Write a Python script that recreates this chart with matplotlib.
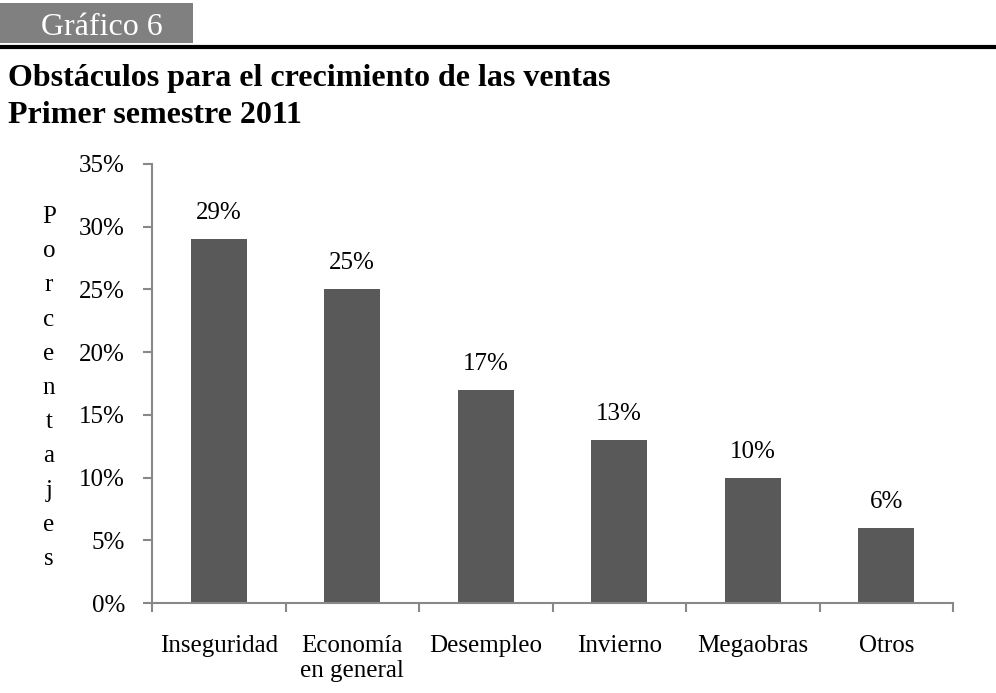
import matplotlib.pyplot as plt
from matplotlib.patches import Rectangle
from matplotlib.lines import Line2D
from matplotlib.ticker import FixedLocator, PercentFormatter

categorias = ["Inseguridad", "Economía\nen general", "Desempleo", "Invierno", "Megaobras", "Otros"]
valores = [29, 25, 17, 13, 10, 6]
yticks = [0, 5, 10, 15, 20, 25, 30, 35]

plt.rcParams["font.family"] = ["Liberation Serif", "DejaVu Serif"]

fig = plt.figure(figsize=(9.96, 6.93), dpi=100)
fig.patch.set_facecolor("white")

# header block
fig.patches.append(Rectangle((0, 1 - 43 / 693), 193 / 996, 40 / 693, transform=fig.transFigure,
                             facecolor="#808080", edgecolor="none"))
fig.text(102 / 996, 1 - 35 / 693, "Gráfico 6", color="white", fontsize=23,
         ha="center", va="baseline")
fig.lines.append(Line2D([0, 1], [1 - 46.5 / 693, 1 - 46.5 / 693], transform=fig.transFigure,
                        color="black", lw=3))
fig.text(8 / 996, 1 - 86 / 693, "Obstáculos para el crecimiento de las ventas",
         fontsize=23, fontweight="bold", ha="left", va="baseline")
fig.text(8 / 996, 1 - 123 / 693, "Primer semestre 2011",
         fontsize=23, fontweight="bold", ha="left", va="baseline")

ax = fig.add_axes([152 / 996, 90 / 693, 801 / 996, 439 / 693])
x = range(len(categorias))
ax.bar(x, valores, width=0.42, color="#595959")
for xi, v in zip(x, valores):
    ax.text(xi, v + 1.2, f"{v}%", ha="center", va="bottom", fontsize=18)

ax.set_xlim(-0.5, len(categorias) - 0.5)
ax.set_ylim(0, 35)
ax.yaxis.set_major_locator(FixedLocator(yticks))
ax.yaxis.set_major_formatter(PercentFormatter(decimals=0))
ax.set_xticks(list(x))
ax.set_xticklabels(categorias, fontsize=18, linespacing=1.18, va="top")
ax.xaxis.set_minor_locator(FixedLocator([i - 0.5 for i in range(len(categorias) + 1)]))
ax.tick_params(axis="x", which="major", length=0, pad=23)
ax.tick_params(axis="x", which="minor", length=6.5, width=1.5, color="#888888")
ax.tick_params(axis="y", length=6.5, width=1.5, color="#888888", labelsize=18, pad=13)

for s in ["top", "right"]:
    ax.spines[s].set_visible(False)
for s in ["left", "bottom"]:
    ax.spines[s].set_color("#888888")
    ax.spines[s].set_linewidth(1.5)

fig.text(49 / 996, 1 - 388 / 693, "\n".join("Porcentajes"), fontsize=18,
         ha="center", va="center", linespacing=1.72)

fig.savefig("out.png", dpi=100)
